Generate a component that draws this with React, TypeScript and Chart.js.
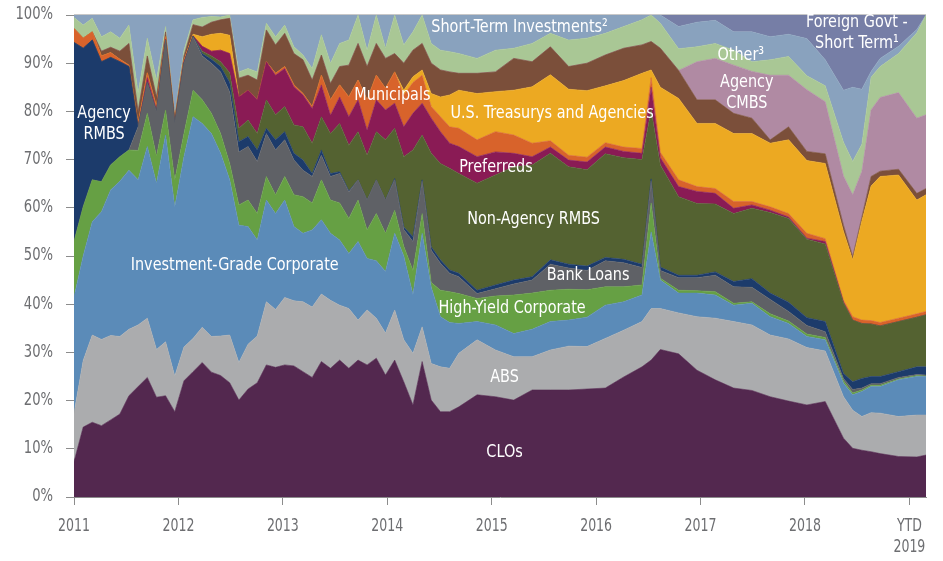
import React, { useEffect, useRef } from 'react';
import { Chart, registerables } from 'chart.js';

Chart.register(...registerables);

// x positions (decimal years) of the data points
const dates = [
  2011.000, 2011.088, 2011.175, 2011.263, 2011.351, 2011.439, 2011.526, 2011.614, 2011.702, 2011.790,
  2011.877, 2011.965, 2012.053, 2012.140, 2012.228, 2012.316, 2012.404, 2012.491, 2012.579, 2012.667,
  2012.755, 2012.842, 2012.930, 2013.018, 2013.106, 2013.193, 2013.281, 2013.369, 2013.456, 2013.544,
  2013.632, 2013.720, 2013.807, 2013.895, 2013.983, 2014.071, 2014.158, 2014.246, 2014.334, 2014.421,
  2014.509, 2014.597, 2014.685, 2014.860, 2015.036, 2015.211, 2015.387, 2015.562, 2015.737, 2015.913,
  2016.088, 2016.264, 2016.439, 2016.527, 2016.615, 2016.790, 2016.966, 2017.141, 2017.317, 2017.492,
  2017.667, 2017.843, 2018.018, 2018.194, 2018.369, 2018.457, 2018.545, 2018.633, 2018.720, 2018.896,
  2019.071, 2019.159,
];

// Cumulative share (%) at the top of each layer, bottom to top
const cloTop = [
  7.3, 14.5, 15.5, 14.8, 16.0, 17.2, 21.0, 22.9, 24.8, 20.7,
  21.0, 17.7, 24.1, 26.0, 27.9, 25.9, 25.2, 23.7, 20.1, 22.4,
  23.7, 27.4, 26.9, 27.4, 27.2, 26.0, 24.8, 28.1, 26.7, 28.4,
  26.7, 28.4, 27.4, 28.8, 25.3, 28.4, 23.9, 19.1, 28.1, 20.1,
  17.7, 17.7, 18.7, 21.2, 20.8, 20.1, 22.2, 22.2, 22.2, 22.4,
  22.6, 24.9, 27.0, 28.4, 30.6, 29.7, 26.3, 24.3, 22.6, 22.1,
  20.8, 19.9, 19.1, 19.8, 12.2, 10.1, 9.7, 9.4, 9.0, 8.4,
  8.3, 8.7,
];
const absTop = [
  17.4, 28.3, 33.6, 32.7, 33.5, 33.3, 34.8, 35.7, 37.1, 30.6,
  32.2, 25.1, 31.1, 32.9, 35.2, 33.3, 33.4, 33.6, 27.9, 31.7,
  33.4, 40.5, 38.9, 41.4, 40.7, 40.5, 39.4, 42.1, 40.8, 39.8,
  39.1, 36.7, 38.8, 37.1, 34.0, 38.8, 32.6, 29.8, 35.3, 27.7,
  27.0, 26.7, 29.8, 32.6, 30.5, 29.1, 29.1, 30.5, 31.3, 31.2,
  32.9, 34.6, 36.4, 39.1, 39.1, 38.2, 37.4, 37.1, 36.4, 35.7,
  33.6, 32.8, 31.0, 30.3, 20.8, 18.0, 16.7, 17.5, 17.4, 16.7,
  17.0, 17.0,
];
const igCorpTop = [
  41.5, 50.0, 57.1, 59.2, 63.7, 65.5, 67.8, 65.8, 72.7, 65.1,
  75.1, 60.2, 70.6, 78.9, 77.5, 75.4, 71.3, 65.8, 56.4, 56.1,
  53.3, 61.6, 58.8, 61.6, 56.1, 54.7, 55.4, 57.5, 54.7, 53.3,
  50.5, 53.0, 49.5, 49.0, 46.8, 54.7, 50.0, 42.0, 54.7, 43.5,
  37.4, 36.2, 36.0, 36.4, 35.7, 33.9, 34.8, 36.4, 36.7, 37.3,
  39.8, 40.5, 41.9, 55.0, 45.0, 42.3, 42.3, 41.9, 39.8, 40.2,
  37.4, 36.0, 33.3, 32.6, 23.6, 21.2, 21.9, 22.9, 22.9, 24.3,
  25.0, 25.0,
];
const hyCorpTop = [
  53.0, 60.2, 65.8, 65.4, 68.9, 70.6, 72.0, 71.9, 79.6, 70.7,
  80.3, 65.8, 75.4, 84.4, 82.4, 79.6, 75.4, 69.2, 60.6, 61.6,
  58.8, 66.5, 62.7, 66.5, 62.7, 62.3, 61.0, 65.8, 61.6, 61.0,
  57.8, 61.6, 55.4, 58.8, 54.7, 59.5, 52.0, 47.0, 58.8, 44.5,
  42.9, 42.6, 42.2, 41.2, 41.7, 41.9, 42.3, 42.9, 43.1, 43.0,
  43.6, 43.6, 44.0, 61.0, 45.4, 42.9, 42.8, 42.6, 40.2, 40.5,
  38.0, 36.5, 33.8, 33.1, 24.1, 21.6, 22.2, 23.2, 23.2, 24.5,
  25.2, 25.1,
];
const bankLoansTop = [
  53.0, 60.2, 65.8, 65.4, 68.9, 70.6, 72.0, 76.8, 86.0, 80.0,
  94.8, 77.6, 90.0, 95.5, 91.5, 90.0, 88.2, 84.0, 71.6, 72.7,
  69.6, 75.4, 72.0, 74.1, 69.9, 67.8, 66.5, 70.9, 66.5, 67.1,
  63.3, 65.8, 61.6, 65.8, 61.6, 65.8, 55.5, 53.0, 65.5, 51.2,
  48.5, 46.4, 45.7, 42.2, 43.2, 44.2, 45.0, 48.3, 47.5, 47.0,
  49.0, 48.6, 47.6, 65.5, 47.0, 45.5, 45.5, 46.0, 43.6, 43.5,
  41.0, 38.5, 35.6, 34.3, 24.6, 22.3, 22.6, 23.5, 23.5, 24.8,
  25.4, 25.3,
];
const agencyRmbsTop = [
  94.3, 93.1, 94.8, 90.3, 91.2, 90.3, 89.3, 76.8, 86.0, 80.0,
  94.8, 77.6, 90.0, 95.6, 92.0, 90.8, 89.3, 86.0, 73.7, 74.8,
  72.0, 76.5, 74.1, 75.8, 71.3, 69.9, 67.1, 72.0, 67.1, 67.5,
  63.5, 65.8, 61.6, 65.8, 61.6, 66.1, 56.0, 54.0, 65.8, 51.9,
  49.2, 47.1, 46.4, 42.9, 44.0, 45.0, 45.7, 49.2, 48.3, 47.9,
  49.7, 49.3, 48.3, 66.0, 47.7, 46.0, 46.0, 46.7, 44.7, 45.3,
  42.3, 40.4, 37.2, 36.4, 25.6, 23.9, 24.6, 25.0, 25.0, 26.0,
  27.0, 27.0,
];
const nonAgencyRmbsTop = [
  94.3, 93.1, 94.8, 90.3, 91.2, 90.3, 89.3, 76.8, 86.0, 80.0,
  94.8, 77.6, 90.0, 95.6, 92.5, 91.5, 90.3, 88.0, 76.5, 78.2,
  75.4, 82.4, 79.3, 81.0, 77.2, 76.8, 73.4, 78.9, 75.4, 77.5,
  73.0, 75.8, 70.9, 75.8, 74.1, 76.5, 70.6, 72.0, 75.1, 71.3,
  69.2, 68.2, 67.1, 65.1, 66.8, 68.5, 68.9, 71.3, 68.5, 67.9,
  71.2, 70.4, 70.0, 80.3, 68.9, 62.3, 60.9, 60.8, 58.8, 59.9,
  59.0, 57.8, 53.5, 52.5, 40.3, 36.7, 36.0, 35.9, 35.5, 36.4,
  37.3, 37.8,
];
const preferredsTop = [
  94.3, 93.1, 94.8, 90.3, 91.2, 90.3, 89.3, 76.8, 87.0, 80.3,
  95.0, 77.6, 90.3, 95.7, 93.5, 92.5, 92.7, 92.0, 83.0, 84.4,
  82.4, 90.3, 87.5, 88.9, 85.1, 83.4, 80.6, 85.5, 79.2, 83.0,
  78.9, 82.4, 76.1, 82.4, 80.3, 81.7, 76.8, 79.6, 81.7, 78.6,
  75.8, 73.4, 72.7, 70.6, 71.6, 71.3, 70.6, 72.6, 69.9, 69.5,
  72.6, 71.7, 71.3, 85.0, 70.4, 64.4, 63.4, 63.0, 59.9, 60.6,
  59.5, 58.1, 53.7, 53.0, 40.4, 36.7, 36.0, 35.9, 35.5, 36.4,
  37.3, 37.8,
];
const municipalsTop = [
  97.2, 95.2, 96.5, 91.5, 92.2, 90.8, 89.6, 77.5, 88.0, 81.0,
  95.5, 78.0, 90.6, 95.7, 93.5, 92.5, 92.7, 92.0, 83.0, 84.4,
  82.4, 90.3, 87.9, 89.3, 85.5, 83.7, 81.0, 87.5, 82.4, 85.5,
  83.0, 86.5, 82.4, 87.5, 84.8, 88.2, 83.4, 86.0, 87.5, 81.0,
  78.9, 76.8, 76.5, 74.1, 75.8, 75.1, 73.4, 73.9, 70.9, 70.5,
  73.5, 72.6, 72.3, 87.0, 71.5, 65.8, 64.4, 64.0, 61.3, 61.3,
  60.2, 58.8, 54.7, 53.6, 40.8, 37.4, 36.7, 36.6, 36.2, 37.1,
  38.0, 38.5,
];
const treasurysTop = [
  97.2, 95.2, 96.5, 91.5, 92.2, 90.8, 89.6, 77.5, 88.0, 81.0,
  95.5, 78.0, 90.6, 96.0, 95.5, 96.0, 96.2, 95.8, 83.0, 84.4,
  82.4, 90.3, 87.9, 89.3, 85.5, 83.7, 81.0, 87.5, 82.4, 85.5,
  83.0, 86.5, 82.4, 87.5, 84.8, 88.2, 84.4, 87.2, 88.6, 83.7,
  83.0, 83.4, 84.4, 83.7, 84.1, 84.4, 85.1, 87.6, 84.6, 84.3,
  85.3, 86.4, 87.9, 88.6, 85.0, 82.7, 77.5, 77.5, 75.4, 75.4,
  73.4, 74.1, 69.8, 69.2, 55.1, 49.2, 57.3, 64.5, 66.5, 66.8,
  61.6, 62.7,
];
const cmbsBrownTop = [
  97.2, 95.2, 96.5, 92.5, 93.3, 92.5, 94.1, 80.0, 91.5, 83.0,
  96.5, 78.8, 91.5, 98.0, 97.5, 98.5, 99.0, 99.3, 86.9, 87.5,
  86.5, 96.9, 93.8, 96.2, 92.0, 90.7, 86.5, 91.7, 85.8, 89.3,
  89.6, 94.1, 89.3, 94.1, 91.0, 92.0, 90.0, 92.7, 94.1, 90.0,
  88.6, 88.2, 87.9, 87.9, 88.2, 91.0, 90.3, 93.4, 89.3, 90.0,
  91.7, 93.1, 93.8, 94.5, 93.1, 88.5, 82.4, 82.4, 79.6, 78.6,
  74.1, 76.8, 71.7, 71.2, 56.4, 49.9, 58.1, 66.5, 67.6, 68.0,
  63.0, 64.0,
];
const agencyCmbsTop = [
  97.2, 95.2, 96.5, 92.5, 93.3, 92.5, 94.1, 80.0, 91.5, 83.0,
  96.5, 78.8, 91.5, 98.0, 97.5, 98.5, 99.0, 99.3, 86.9, 87.5,
  86.5, 96.9, 93.8, 96.2, 92.0, 90.7, 86.5, 91.7, 85.8, 89.3,
  89.6, 94.1, 89.3, 94.1, 91.0, 92.0, 90.0, 92.7, 94.1, 90.0,
  88.6, 88.2, 87.9, 87.9, 88.2, 91.0, 90.3, 93.4, 89.3, 90.0,
  91.7, 93.1, 93.8, 94.5, 93.1, 88.5, 90.3, 91.0, 89.6, 88.3,
  87.5, 87.5, 84.5, 82.0, 66.6, 62.7, 67.6, 80.3, 82.9, 83.9,
  78.6, 79.3,
];
const otherTop = [
  99.5, 97.9, 99.3, 95.5, 96.5, 95.2, 97.9, 83.8, 95.2, 86.5,
  97.6, 79.3, 92.7, 99.0, 99.5, 99.7, 99.6, 100, 88.2, 88.9,
  88.2, 98.3, 95.5, 97.9, 93.4, 91.7, 88.9, 95.9, 90.0, 94.1,
  94.8, 100, 92.7, 100, 93.1, 100, 93.8, 96.5, 100, 94.1,
  92.7, 92.4, 92.0, 91.0, 92.7, 93.1, 94.1, 96.2, 94.8, 95.2,
  96.2, 97.6, 99.0, 100, 98.3, 93.0, 93.4, 94.1, 92.7, 90.3,
  90.7, 91.4, 87.4, 85.3, 73.6, 69.6, 73.2, 87.1, 89.3, 92.0,
  96.3, 100,
];
const shortTermTop = [
  100, 100, 100, 100, 100, 100, 100, 100, 100, 100,
  100, 100, 100, 100, 100, 100, 100, 100, 100, 100,
  100, 100, 100, 100, 100, 100, 100, 100, 100, 100,
  100, 100, 100, 100, 100, 100, 100, 100, 100, 100,
  100, 100, 100, 100, 100, 100, 100, 100, 100, 100,
  100, 100, 100, 100, 100, 97.6, 98.5, 98.9, 96.5, 96.5,
  95.5, 96.0, 95.1, 90.7, 84.4, 85.0, 84.6, 88.3, 91.0, 93.5,
  97.0, 100,
];
const foreignGovtTop = [
  100, 100, 100, 100, 100, 100, 100, 100, 100, 100,
  100, 100, 100, 100, 100, 100, 100, 100, 100, 100,
  100, 100, 100, 100, 100, 100, 100, 100, 100, 100,
  100, 100, 100, 100, 100, 100, 100, 100, 100, 100,
  100, 100, 100, 100, 100, 100, 100, 100, 100, 100,
  100, 100, 100, 100, 100, 100, 100, 100, 100, 100,
  100, 100, 100, 100, 100, 100, 100, 100, 100, 100,
  100, 100,
];

const yearTicks = [2011, 2012, 2013, 2014, 2015, 2016, 2017, 2018, 2019];
const yearLabels = [['2011'], ['2012'], ['2013'], ['2014'], ['2015'], ['2016'], ['2017'], ['2018'], ['YTD', '2019']];
const pctTicks = [0, 10, 20, 30, 40, 50, 60, 70, 80, 90, 100];

const layers = [
  { label: 'CLOs', data: cloTop, color: '#53284f' },
  { label: 'ABS', data: absTop, color: '#abacae' },
  { label: 'Investment-Grade Corporate', data: igCorpTop, color: '#5b8bb8' },
  { label: 'High-Yield Corporate', data: hyCorpTop, color: '#66a044' },
  { label: 'Bank Loans', data: bankLoansTop, color: '#5f6166' },
  { label: 'Agency RMBS', data: agencyRmbsTop, color: '#1c3b6b' },
  { label: 'Non-Agency RMBS', data: nonAgencyRmbsTop, color: '#546231' },
  { label: 'Preferreds', data: preferredsTop, color: '#8a1b55' },
  { label: 'Municipals', data: municipalsTop, color: '#d8632b' },
  { label: 'U.S. Treasurys and Agencies', data: treasurysTop, color: '#eca922' },
  { label: 'CMBS', data: cmbsBrownTop, color: '#7b4f3a' },
  { label: 'Agency CMBS', data: agencyCmbsTop, color: '#b08aa3' },
  { label: 'Other', data: otherTop, color: '#a9c795' },
  { label: 'Short-Term Investments', data: shortTermTop, color: '#89a2be' },
  { label: 'Foreign Govt - Short Term', data: foreignGovtTop, color: '#767ea6' },
];

const annotations = [
  { lines: ['Agency', 'RMBS'], x: 2011.288, y: 77.5 },
  { lines: ['Investment-Grade Corporate'], x: 2012.539, y: 48.1 },
  { lines: ['Municipals'], x: 2014.049, y: 83.4 },
  { lines: ['U.S. Treasurys and Agencies'], x: 2015.578, y: 79.5 },
  { lines: ['Preferreds'], x: 2015.041, y: 68.5 },
  { lines: ['Non-Agency RMBS'], x: 2015.401, y: 57.7 },
  { lines: ['Bank Loans'], x: 2015.923, y: 45.9 },
  { lines: ['High-Yield Corporate'], x: 2015.195, y: 39.2 },
  { lines: ['ABS'], x: 2015.123, y: 24.9 },
  { lines: ['CLOs'], x: 2015.123, y: 9.3 },
  { lines: ['Short-Term Investments²'], x: 2015.267, y: 97.5 },
  { lines: ['Other³'], x: 2017.385, y: 91.7 },
  { lines: ['Agency', 'CMBS'], x: 2017.443, y: 83.8 },
  { lines: ['Foreign Govt -', 'Short Term¹'], x: 2018.497, y: 96.3 },
];

const FONT = '"Liberation Sans Narrow", "DejaVu Sans Condensed", Roboto, sans-serif';
const AXIS_COLOR = '#8c8c8c';
const TEXT_COLOR = '#6d6e71';

function drawNarrow(ctx: any, text: string, x: number, y: number, sx: number) {
  ctx.save();
  ctx.translate(x, y);
  ctx.scale(sx, 1);
  ctx.fillText(text, 0, 0);
  ctx.restore();
}

const textPlugin = {
  id: 'textLayer',
  afterDatasetsDraw(chart: any) {
    const { ctx, scales, chartArea } = chart;
    // thin frame line at the top of the plot
    ctx.save();
    ctx.strokeStyle = '#c8c8c8';
    ctx.lineWidth = 1;
    ctx.beginPath();
    ctx.moveTo(chartArea.left, chartArea.top - 0.5);
    ctx.lineTo(chartArea.right, chartArea.top - 0.5);
    ctx.stroke();
    // area labels
    ctx.fillStyle = '#ffffff';
    ctx.font = `18px ${FONT}`;
    ctx.textAlign = 'center';
    ctx.textBaseline = 'middle';
    const lh = 21;
    annotations.forEach((a) => {
      const px = scales.x.getPixelForValue(a.x);
      const py = scales.y.getPixelForValue(a.y);
      const start = py - ((a.lines.length - 1) * lh) / 2;
      a.lines.forEach((t, i) => drawNarrow(ctx, t, px, start + i * lh, 0.89));
    });
    ctx.restore();
  },
  afterDraw(chart: any) {
    const { ctx, scales, chartArea } = chart;
    ctx.save();
    ctx.fillStyle = TEXT_COLOR;
    ctx.font = `17px ${FONT}`;
    ctx.textBaseline = 'middle';
    ctx.textAlign = 'center';
    yearTicks.forEach((v, i) => {
      const px = scales.x.getPixelForValue(v);
      yearLabels[i].forEach((t, j) => drawNarrow(ctx, t, px, chartArea.bottom + 30 + j * 21, 0.82));
    });
    ctx.textAlign = 'right';
    pctTicks.forEach((v) => {
      const py = scales.y.getPixelForValue(v);
      drawNarrow(ctx, `${v}%`, chartArea.left - 21, py, 0.86);
    });
    ctx.restore();
  },
};

export default function App() {
  const ref = useRef<HTMLCanvasElement | null>(null);
  useEffect(() => {
    if (!ref.current) return;
    const chart = new Chart(ref.current, {
      type: 'line',
      data: {
        datasets: layers.map((l, i) => ({
          label: l.label,
          data: dates.map((d, j) => ({ x: d, y: l.data[j] })),
          backgroundColor: l.color,
          borderColor: l.color,
          borderWidth: 0.6,
          pointRadius: 0,
          tension: 0,
          fill: i === 0 ? 'origin' : '-1',
        })),
      },
      options: {
        responsive: false,
        animation: false,
        layout: { padding: { top: 15, right: 17, left: 0, bottom: 0 } },
        plugins: { legend: { display: false }, tooltip: { enabled: false } },
        scales: {
          x: {
            type: 'linear',
            min: 2011,
            max: dates[dates.length - 1],
            afterFit: (s: any) => { s.height = 64; },
            afterBuildTicks: (s: any) => { s.ticks = yearTicks.map((v) => ({ value: v })); },
            ticks: { display: false },
            grid: { drawOnChartArea: false, drawTicks: true, tickLength: 8, color: AXIS_COLOR },
            border: { display: true, color: AXIS_COLOR },
          },
          y: {
            min: 0,
            max: 100,
            afterFit: (s: any) => { s.width = 74; },
            afterBuildTicks: (s: any) => { s.ticks = pctTicks.map((v) => ({ value: v })); },
            ticks: { display: false },
            grid: { drawOnChartArea: false, drawTicks: true, tickLength: 8, color: AXIS_COLOR },
            border: { display: true, color: AXIS_COLOR },
          },
        },
      },
      plugins: [textPlugin],
    });
    return () => chart.destroy();
  }, []);
  return (
    <div style={{ position: 'absolute', left: 0, top: 0, width: 943, height: 561, background: '#fff' }}>
      <canvas ref={ref} width={943} height={561} style={{ display: 'block' }} />
    </div>
  );
}
